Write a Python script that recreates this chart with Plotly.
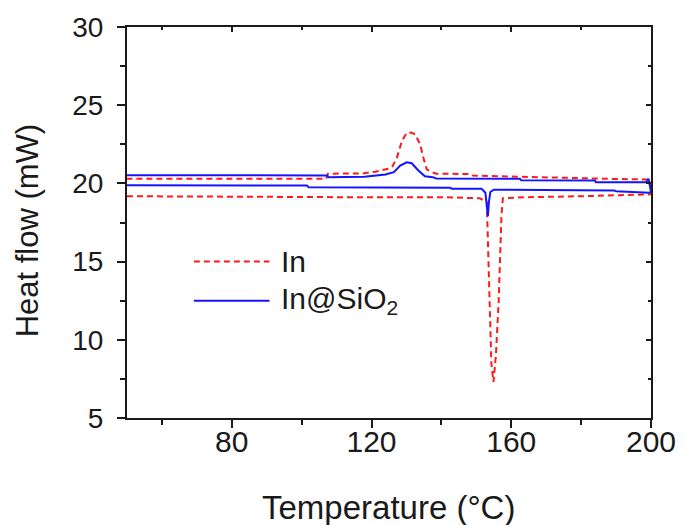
import plotly.graph_objects as go

# ---- data ----
# In : heating run (lower curve, melting dip) then cooling run (upper curve, crystallisation peak)
t_in_heat = [50, 80, 110, 140, 151, 153.0, 153.6, 154.3, 154.9, 155.6, 156.4, 157.2, 157.6, 165, 180, 195, 199.5, 200]
hf_in_heat = [19.18, 19.14, 19.12, 19.12, 19.05, 18.8, 13.5, 8.5, 7.3, 9.0, 12.5, 18.0, 19.05, 19.12, 19.18, 19.24, 19.26, 19.3]
t_in_cool = [200, 199.5, 190, 175, 160, 149, 148.5, 140, 138.5, 137.2, 135.8, 134.8, 133.9, 132.5, 131.3, 130.1,
             128.7, 127.3, 126.0, 125.0, 121.2, 117.5, 107.5, 107, 90, 70, 50]
hf_in_cool = [20.1, 20.25, 20.28, 20.35, 20.42, 20.5, 20.6, 20.62, 20.62, 20.72, 20.9, 21.67, 22.51, 23.14, 23.25, 23.24,
              22.72, 21.67, 21.1, 20.95, 20.75, 20.64, 20.62, 20.3, 20.3, 20.3, 20.3]

# In@SiO2
t_sio2_heat = [50, 101.5, 102, 142.5, 143, 151.5, 152.6, 153.0, 153.3, 153.6, 154.0, 155, 170, 189.5, 190, 196.5, 197, 199.5, 200]
hf_sio2_heat = [19.88, 19.86, 19.76, 19.72, 19.66, 19.65, 19.4, 18.6, 17.9, 18.8, 19.45, 19.6, 19.58, 19.55, 19.5, 19.46, 19.42, 19.4, 19.45]
t_sio2_cool = [200, 199.3, 198.6, 190, 184.2, 184, 170, 162.8, 162.5, 145, 138.5, 137.5, 135.3, 133.4, 131.5, 130.1,
               128.2, 126.4, 124.0, 118, 107.6, 107.3, 80, 50]
hf_sio2_cool = [19.45, 20.3, 20.07, 20.07, 20.07, 20.18, 20.18, 20.2, 20.3, 20.3, 20.32, 20.4, 20.45, 20.83, 21.29, 21.35,
                21.14, 20.72, 20.57, 20.42, 20.4, 20.51, 20.51, 20.52]

x_major = [80, 120, 160, 200]
x_minor = [60, 100, 140, 180]
y_major = [5, 10, 15, 20, 25, 30]
y_minor = [7.5, 12.5, 17.5, 22.5, 27.5]

series_names = ["In", "In@SiO<sub>2</sub>"]
RED = "#ff1a1a"
BLUE = "#1414ff"
AX = "#1a1a1a"
FONT = "Arial, Liberation Sans, sans-serif"

fig = go.Figure()
fig.add_trace(go.Scatter(x=t_in_heat + t_in_cool, y=hf_in_heat + hf_in_cool, mode="lines",
                         line=dict(color=RED, width=2, dash="6px,4px"), name=series_names[0],
                         showlegend=False))
fig.add_trace(go.Scatter(x=t_sio2_heat + t_sio2_cool, y=hf_sio2_heat + hf_sio2_cool, mode="lines",
                         line=dict(color=BLUE, width=2), name=series_names[1], showlegend=False))
# empty trace to activate mirrored (inward-tick) axes on top/right
fig.add_trace(go.Scatter(x=[], y=[], xaxis="x2", yaxis="y2", showlegend=False, hoverinfo="skip"))

fig.update_layout(
    width=688, height=525,
    margin=dict(l=127, r=28, t=21, b=107),
    paper_bgcolor="white", plot_bgcolor="white",
    font=dict(family=FONT, color="#1a1a1a"),
    xaxis=dict(range=[50, 200], tickvals=x_major, ticks="outside", ticklen=8, tickwidth=1.5, tickcolor=AX,
               minor=dict(tickvals=x_minor, ticks="outside", ticklen=5, tickwidth=1.5, tickcolor=AX),
               showline=True, linecolor=AX, linewidth=2, mirror=True, showgrid=False, zeroline=False,
               tickfont=dict(size=30, family=FONT), ticklabelstandoff=-12),
    yaxis=dict(range=[5, 30], tickvals=y_major, ticks="outside", ticklen=8, tickwidth=1.5, tickcolor=AX,
               minor=dict(tickvals=y_minor, ticks="outside", ticklen=5, tickwidth=1.5, tickcolor=AX),
               showline=True, linecolor=AX, linewidth=2, mirror=True, showgrid=False, zeroline=False,
               tickfont=dict(size=28, family=FONT), ticklabelstandoff=8),
    xaxis2=dict(range=[50, 200], overlaying="x", side="top", anchor="y2", tickvals=x_major, ticks="inside",
                ticklen=5, tickwidth=1.5, tickcolor=AX, showticklabels=False, showgrid=False, zeroline=False,
                minor=dict(tickvals=x_minor, ticks="inside", ticklen=3, tickwidth=1.5, tickcolor=AX)),
    yaxis2=dict(range=[5, 30], overlaying="y", side="right", anchor="x2", tickvals=y_major, ticks="inside",
                ticklen=5, tickwidth=1.5, tickcolor=AX, showticklabels=False, showgrid=False, zeroline=False,
                minor=dict(tickvals=y_minor, ticks="inside", ticklen=3, tickwidth=1.5, tickcolor=AX)),
    showlegend=False,
)

# axis titles
fig.add_annotation(text="Temperature (°C)", xref="paper", yref="paper", x=0.499, y=-0.228,
                   showarrow=False, font=dict(size=33, family=FONT), xanchor="center", yanchor="middle")
fig.add_annotation(text="Heat flow (mW)", xref="paper", yref="paper", x=-0.19, y=0.481, textangle=-90,
                   showarrow=False, font=dict(size=31, family=FONT), xanchor="center", yanchor="middle")

# legend (drawn manually to match the long sample lines)
leg_x0, leg_x1, leg_tx = 0.1276, 0.272, 0.2908
leg_rows = [(0.400, dict(color=RED, width=2, dash="6px,4px")), (0.300, dict(color=BLUE, width=2))]
for (ly, lstyle), name in zip(leg_rows, series_names):
    fig.add_shape(type="line", xref="paper", yref="paper", x0=leg_x0, x1=leg_x1, y0=ly, y1=ly, line=lstyle)
    fig.add_annotation(text=name, xref="paper", yref="paper", x=leg_tx, y=ly, showarrow=False,
                       xanchor="left", yanchor="middle", font=dict(size=30, family=FONT))

fig.write_html("out.html")
